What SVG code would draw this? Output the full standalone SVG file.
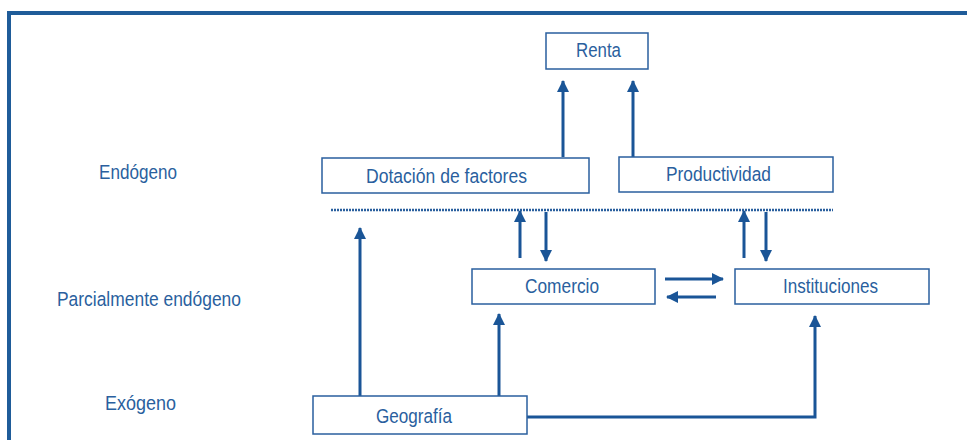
<svg xmlns="http://www.w3.org/2000/svg" width="967" height="440" viewBox="0 0 967 440">
<defs>
<style>
.box{fill:#fff;stroke:#2A5F9E;stroke-width:1.5}
.t{font-family:"Liberation Sans Narrow","Liberation Sans",Arial,sans-serif;font-size:20.5px;fill:#2A5F9E}
.c{stroke:#1A5597;stroke-width:3;fill:none}
.frame{stroke:#1F5C99;stroke-width:4;fill:none}
</style>
<marker id="ah" markerUnits="userSpaceOnUse" markerWidth="12" markerHeight="14" viewBox="0 0 12 14" refX="11" refY="7" orient="auto">
<path d="M0,1 L12,7 L0,13 Z" fill="#1A5597"/>
</marker>
</defs>
<rect width="967" height="440" fill="#fff"/>
<g id="frame">
<path class="frame" d="M9,440 V13 H967"/>
</g>
<g id="labels">
<text class="t" x="99" y="179" textLength="78" lengthAdjust="spacingAndGlyphs">Endógeno</text>
<text class="t" x="57" y="306" textLength="184" lengthAdjust="spacingAndGlyphs">Parcialmente endógeno</text>
<text class="t" x="105" y="410" textLength="71" lengthAdjust="spacingAndGlyphs">Exógeno</text>
</g>
<g id="connectors">
<line x1="331" y1="210" x2="833" y2="210" stroke="#2A5F9E" stroke-width="2.5" stroke-dasharray="2 1"/>
<line class="c" x1="563" y1="157" x2="563" y2="81" marker-end="url(#ah)"/>
<line class="c" x1="633" y1="157" x2="633" y2="81" marker-end="url(#ah)"/>
<line class="c" x1="520" y1="258" x2="520" y2="211" marker-end="url(#ah)"/>
<line class="c" x1="546" y1="212" x2="546" y2="261" marker-end="url(#ah)"/>
<line class="c" x1="744" y1="258" x2="744" y2="211" marker-end="url(#ah)"/>
<line class="c" x1="766" y1="212" x2="766" y2="261" marker-end="url(#ah)"/>
<line class="c" x1="665" y1="279" x2="723" y2="279" marker-end="url(#ah)"/>
<line class="c" x1="716" y1="297" x2="667" y2="297" marker-end="url(#ah)"/>
<line class="c" x1="360" y1="396" x2="360" y2="228" marker-end="url(#ah)"/>
<line class="c" x1="499" y1="396" x2="499" y2="314" marker-end="url(#ah)"/>
<path class="c" d="M527,417 H815 V316" marker-end="url(#ah)"/>
</g>
<g id="renta">
<rect class="box" x="546" y="33" width="102" height="36"/>
<text class="t" x="576" y="57" textLength="45" lengthAdjust="spacingAndGlyphs">Renta</text>
</g>
<g id="dotacion">
<rect class="box" x="322" y="158" width="267" height="35"/>
<text class="t" x="366" y="183" textLength="161" lengthAdjust="spacingAndGlyphs">Dotación de factores</text>
</g>
<g id="productividad">
<rect class="box" x="619" y="157" width="214" height="35"/>
<text class="t" x="666" y="181" textLength="105" lengthAdjust="spacingAndGlyphs">Productividad</text>
</g>
<g id="comercio">
<rect class="box" x="472" y="269" width="183" height="35"/>
<text class="t" x="525" y="293" textLength="74" lengthAdjust="spacingAndGlyphs">Comercio</text>
</g>
<g id="instituciones">
<rect class="box" x="735" y="269" width="194" height="35"/>
<text class="t" x="783" y="293" textLength="95" lengthAdjust="spacingAndGlyphs">Instituciones</text>
</g>
<g id="geografia">
<rect class="box" x="313" y="396" width="214" height="38"/>
<text class="t" x="376" y="423" textLength="76" lengthAdjust="spacingAndGlyphs">Geografía</text>
</g>
</svg>
